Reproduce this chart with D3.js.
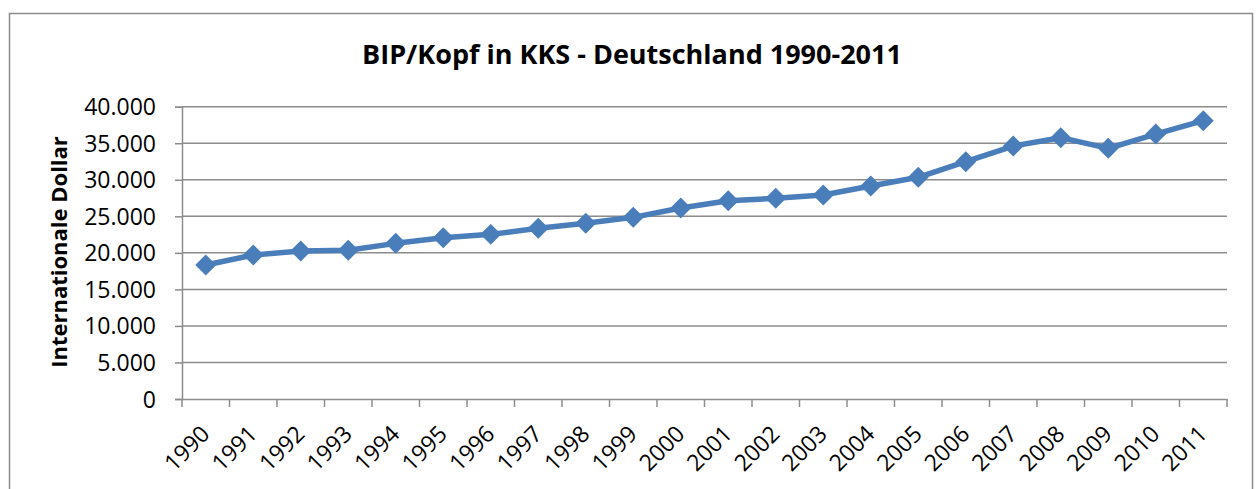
<!DOCTYPE html>
<html><head><meta charset="utf-8">
<script src="https://cdn.jsdelivr.net/npm/d3@7"></script>
<style>body{margin:0;background:#fff}svg{display:block}text{font-family:"Open Sans",sans-serif}</style>
</head><body>
<svg id="c" width="1257" height="489"></svg>
<script>
const years = ["1990","1991","1992","1993","1994","1995","1996","1997","1998","1999","2000","2001","2002","2003","2004","2005","2006","2007","2008","2009","2010","2011"];
const gdp = [18340,19700,20260,20350,21300,22080,22530,23360,24040,24860,26140,27140,27460,27920,29150,30340,32480,34620,35760,34300,36260,38090];
const yTicks = [0,5000,10000,15000,20000,25000,30000,35000,40000];
const title = "BIP/Kopf in KKS - Deutschland 1990-2011";
const yTitle = "Internationale Dollar";

const svg = d3.select("#c");
svg.append("rect").attr("x",9.5).attr("y",13.5).attr("width",1243).attr("height",500)
  .attr("fill","#fff").attr("stroke","#8c8c8c").attr("stroke-width",1.5);

const L=182, R=1227, T=106.7, B=399;
const x = d3.scaleBand().domain(years).range([L,R]);
const y = d3.scaleLinear().domain([0,40000]).range([B,T]);
const fmt = d3.format(",.0f");
const de = v => fmt(v).replace(/,/g,".");

svg.append("g").selectAll("line").data(yTicks.filter(d=>d>0)).join("line")
  .attr("x1",L).attr("x2",R).attr("y1",d=>y(d)).attr("y2",d=>y(d))
  .attr("stroke","#8c8c8c").attr("stroke-width",1.5);

const yAx = svg.append("g").attr("transform",`translate(${L},0)`)
  .call(d3.axisLeft(y).tickValues(yTicks).tickFormat(de).tickSize(7).tickPadding(19));
yAx.select(".domain").attr("stroke","#8c8c8c").attr("stroke-width",1.5);
yAx.selectAll(".tick line").attr("stroke","#8c8c8c").attr("stroke-width",1.5);
yAx.selectAll("text").attr("font-size",23).attr("fill","#000").attr("dy","0.35em");

const xAx = svg.append("g").attr("transform",`translate(0,${B})`)
  .call(d3.axisBottom(x).tickSize(0).tickFormat(""));
xAx.select(".domain").attr("stroke","#8c8c8c").attr("stroke-width",1.5);
const bounds = years.map(d=>x(d)).concat([R]);
svg.append("g").selectAll("line").data(bounds).join("line")
  .attr("x1",d=>d).attr("x2",d=>d).attr("y1",B).attr("y2",B+8)
  .attr("stroke","#8c8c8c").attr("stroke-width",1.5);
svg.append("g").selectAll("text").data(years).join("text")
  .attr("transform",d=>`translate(${x(d)+x.bandwidth()/2-6},${B+25}) rotate(-45)`)
  .attr("text-anchor","end").attr("dy","0.7em").attr("font-size",23).attr("fill","#000").text(d=>d);

const cx = d=>x(d)+x.bandwidth()/2;
svg.append("path").datum(gdp)
  .attr("d",d3.line().x((d,i)=>cx(years[i])).y(d=>y(d)))
  .attr("fill","none").attr("stroke","#4a7ebb").attr("stroke-width",5.5).attr("stroke-linejoin","round");
svg.append("g").selectAll("path").data(gdp).join("path")
  .attr("d",d3.symbol(d3.symbolDiamond2,280))
  .attr("transform",(d,i)=>`translate(${cx(years[i])},${y(d)})`)
  .attr("fill","#4a7ebb");

svg.append("text").attr("x",632).attr("y",64).attr("text-anchor","middle")
  .attr("font-weight","bold").attr("font-size",27).attr("fill","#000").text(title);
svg.append("text").attr("transform","translate(67,252) rotate(-90)").attr("text-anchor","middle")
  .attr("font-weight","bold").attr("font-size",22).attr("fill","#000").text(yTitle);
</script>
</body></html>
